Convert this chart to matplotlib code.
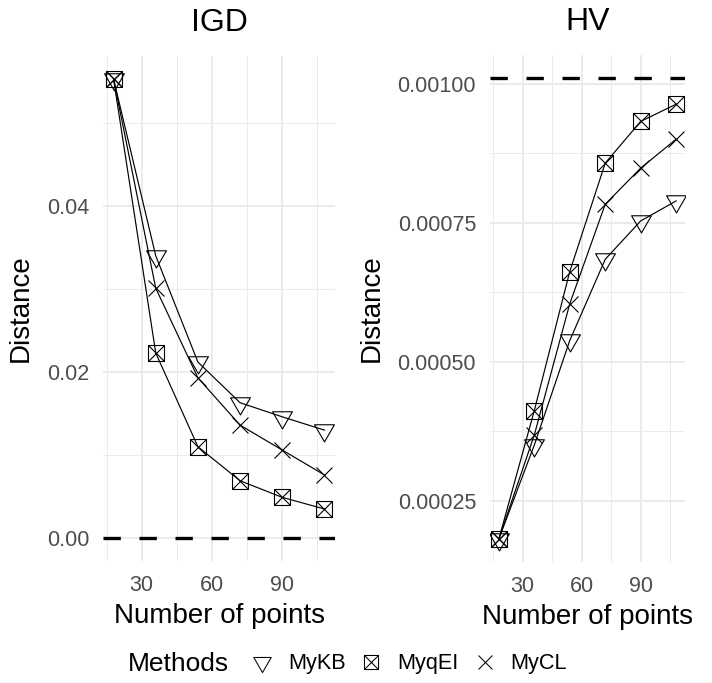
"""
Two-panel convergence plot: IGD and HV against number of points.
"""
import numpy as np
import matplotlib
matplotlib.use("Agg")
import matplotlib.pyplot as plt
from matplotlib.path import Path
from matplotlib.lines import Line2D

plt.rcParams['font.family'] = ['Liberation Sans', 'DejaVu Sans']

n_points = [18, 36, 54, 72, 90, 108]
methods = ["MyKB", "MyqEI", "MyCL"]

igd_mykb = [0.0553, 0.0340, 0.0212, 0.0163, 0.0146, 0.0130]
igd_myqei = [0.0553, 0.0223, 0.0110, 0.0069, 0.0049, 0.0035]
igd_mycl = [0.0553, 0.0301, 0.0193, 0.0136, 0.0106, 0.0076]
igd_ideal = 0.0

hv_mykb = [0.000181, 0.000350, 0.000538, 0.000684, 0.000753, 0.000789]
hv_myqei = [0.000181, 0.000412, 0.000662, 0.000857, 0.000932, 0.000963]
hv_mycl = [0.000181, 0.000368, 0.000604, 0.000783, 0.000848, 0.000900]
hv_ideal = 0.00101

igd_ticks = [0.00, 0.02, 0.04]
igd_labels = ["0.00", "0.02", "0.04"]
hv_ticks = [0.00025, 0.00050, 0.00075, 0.00100]
hv_labels = ["0.00025", "0.00050", "0.00075", "0.00100"]
x_ticks = [30, 60, 90]

# ggplot-like marker shapes
r0 = 1.5551
tri_down = Path([(0, -r0), (1.3468, 0.7776), (-1.3468, 0.7776), (0, -r0)],
                [Path.MOVETO, Path.LINETO, Path.LINETO, Path.CLOSEPOLY])
sq_cross = Path([(-1, -1), (1, -1), (1, 1), (-1, 1), (-1, -1),
                 (-1, -1), (1, 1), (-1, 1), (1, -1)],
                [Path.MOVETO, Path.LINETO, Path.LINETO, Path.LINETO,
                 Path.CLOSEPOLY, Path.MOVETO, Path.LINETO, Path.MOVETO,
                 Path.LINETO])
marker_style = {"MyKB": (tri_down, 16.5), "MyqEI": (sq_cross, 11.5),
                "MyCL": ("x", 12.0)}

GRID = "#EBEBEB"
TICK = "#4D4D4D"

fig = plt.figure(figsize=(7.12, 6.83), dpi=100)
ax1 = fig.add_axes([103 / 712, 1 - 561 / 683, 232 / 712, 505 / 683])
ax2 = fig.add_axes([490 / 712, 1 - 562 / 683, 195 / 712, 507 / 683])


def draw_panel(ax, series, ideal, yticks, ylabels, title):
    for m, ys in zip(methods, series):
        mk, ms = marker_style[m]
        ax.plot(n_points, ys, color="black", lw=0.85, zorder=3)
        ax.plot(n_points, ys, linestyle="none", marker=mk, markersize=ms,
                markerfacecolor="none", markeredgecolor="black",
                markeredgewidth=0.8, zorder=4)
    ax.axhline(ideal, color="black", lw=2.4, dashes=(5.2, 5.6), zorder=2)
    allv = np.concatenate([np.ravel(series), [ideal]])
    lo, hi = allv.min(), allv.max()
    pad = 0.05 * (hi - lo)
    ax.set_xlim(13.5, 112.5)
    ax.set_xticks(x_ticks)
    ax.set_xticks([15, 45, 75, 105], minor=True)
    ax.set_yticks(yticks)
    ax.set_yticklabels(ylabels)
    step = yticks[1] - yticks[0]
    ax.set_yticks([t + step / 2 for t in [yticks[0] - step] + list(yticks)],
                  minor=True)
    ax.set_ylim(lo - pad, hi + pad)
    ax.grid(True, which="major", color=GRID, lw=1.4, zorder=0)
    ax.grid(True, which="minor", color=GRID, lw=0.7, zorder=0)
    ax.set_axisbelow(True)
    for s in ax.spines.values():
        s.set_visible(False)
    ax.tick_params(which="both", length=0, pad=10, labelsize=15.5,
                   labelcolor=TICK)
    ax.set_xlabel("Number of points", fontsize=20, labelpad=5)
    ax.set_ylabel("Distance", fontsize=20, labelpad=9)
    ax.set_title(title, fontsize=23, pad=18)


draw_panel(ax1, [igd_mykb, igd_myqei, igd_mycl], igd_ideal,
           igd_ticks, igd_labels, "IGD")
draw_panel(ax2, [hv_mykb, hv_myqei, hv_mycl], hv_ideal,
           hv_ticks, hv_labels, "HV")

handles = []
for m in methods:
    mk, ms = marker_style[m]
    handles.append(Line2D([], [], linestyle="none", marker=mk,
                          markersize=ms * 0.88, markerfacecolor="none",
                          markeredgecolor="black", markeredgewidth=0.75))
fig.text(128 / 712, 1 - 664 / 683, "Methods", fontsize=19,
         ha="left", va="center")
fig.legend(handles, methods, loc="center left", ncol=3, frameon=False,
           bbox_to_anchor=(251 / 712, 1 - 664 / 683), borderpad=0,
           fontsize=15.6, handlelength=1.0, handletextpad=0.7,
           columnspacing=0.7, borderaxespad=0)

fig.savefig("out.png", dpi=100)
